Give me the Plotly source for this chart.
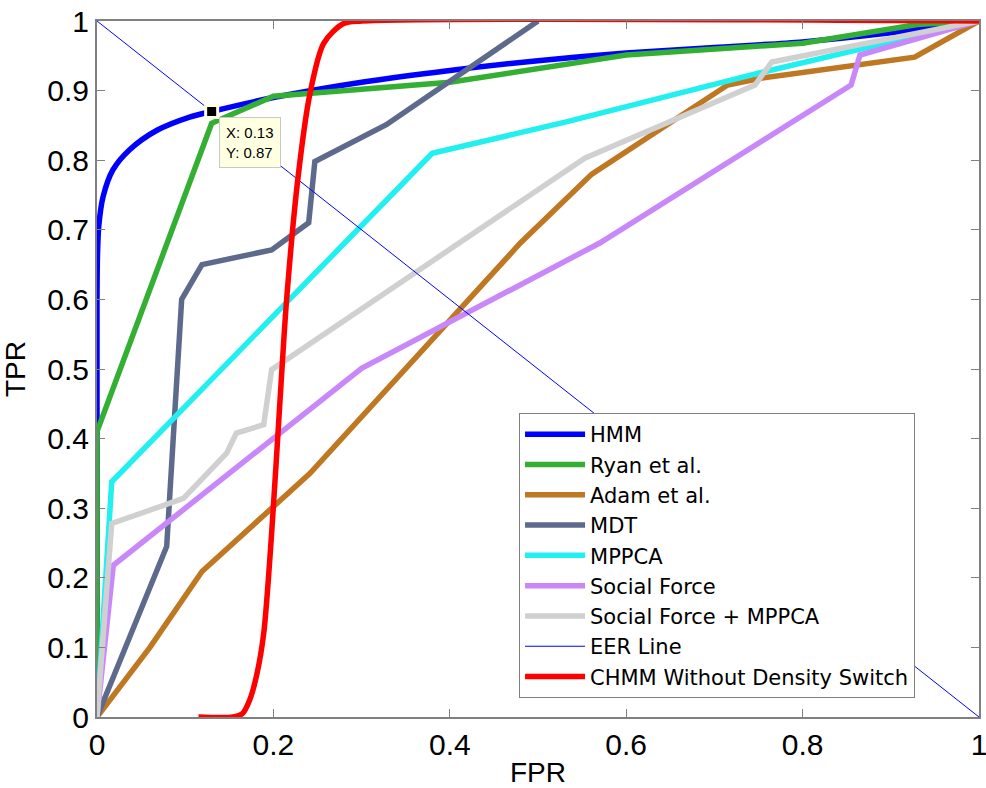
import plotly.graph_objects as go

# ---- data ----
hmm_x = [0, 0, 0.0005, 0.002, 0.007, 0.018, 0.037, 0.068, 0.105, 0.13, 0.2, 0.3, 0.4, 0.5, 0.6, 0.7, 0.8, 0.9, 1]
hmm_y = [0, 0.6, 0.66, 0.705, 0.748, 0.786, 0.815, 0.843, 0.862, 0.87, 0.89, 0.912, 0.929, 0.943, 0.954, 0.962, 0.970, 0.983, 1]

ryan_x = [0, 0, 0.13, 0.2, 0.4, 0.6, 0.8, 0.93, 1]
ryan_y = [0, 0.41, 0.853, 0.892, 0.912, 0.951, 0.968, 0.995, 1]

adam_x = [0, 0.06, 0.119, 0.2415, 0.48, 0.561, 0.715, 0.754, 0.927, 1]
adam_y = [0, 0.1, 0.209, 0.35, 0.681, 0.78, 0.908, 0.918, 0.948, 1]

mdt_x = [0, 0.079, 0.096, 0.119, 0.198, 0.24, 0.247, 0.328, 0.5]
mdt_y = [0, 0.245, 0.6, 0.65, 0.671, 0.71, 0.798, 0.851, 1]

mppca_x = [0, 0.0167, 0.38, 0.532, 0.75, 0.87, 1]
mppca_y = [0, 0.338, 0.81, 0.855, 0.925, 0.961, 1]

sf_x = [0, 0.0185, 0.3, 0.57, 0.855, 0.865, 1]
sf_y = [0, 0.218, 0.501, 0.681, 0.908, 0.951, 1]

sfm_x = [0, 0.0167, 0.098, 0.147, 0.158, 0.189, 0.198, 0.553, 0.746, 0.765, 1]
sfm_y = [0, 0.278, 0.314, 0.379, 0.408, 0.42, 0.499, 0.803, 0.908, 0.941, 1]

eer_x = [0, 1]
eer_y = [1, 0]

chmm_x = [0.115, 0.154, 0.165, 0.173, 0.181, 0.189, 0.198, 0.2075, 0.215, 0.228, 0.2415, 0.257, 0.279, 0.3, 1]
chmm_y = [0, 0, 0.005, 0.024, 0.06, 0.12, 0.264, 0.455, 0.6, 0.776, 0.896, 0.968, 0.996, 1, 1]

tip_x = [0.13]
tip_y = [0.87]

x_ticks = [0, 0.2, 0.4, 0.6, 0.8, 1]
x_tick_text = ["0", "0.2", "0.4", "0.6", "0.8", "1"]
y_ticks = [0, 0.1, 0.2, 0.3, 0.4, 0.5, 0.6, 0.7, 0.8, 0.9, 1]
y_tick_text = ["0", "0.1", "0.2", "0.3", "0.4", "0.5", "0.6", "0.7", "0.8", "0.9", "1"]

series = [
    ("HMM", hmm_x, hmm_y, "#0000FF", 5.5, "spline"),
    ("Ryan et al.", ryan_x, ryan_y, "#33B033", 5.5, "linear"),
    ("Adam et al.", adam_x, adam_y, "#C07722", 5.5, "linear"),
    ("MDT", mdt_x, mdt_y, "#5E6A8C", 5.5, "linear"),
    ("MPPCA", mppca_x, mppca_y, "#22F0F0", 5.5, "linear"),
    ("Social Force", sf_x, sf_y, "#C888FA", 5.5, "linear"),
    ("Social Force + MPPCA", sfm_x, sfm_y, "#D0D0D0", 5.5, "linear"),
    ("EER Line", eer_x, eer_y, "#0000FF", 1, "linear"),
    ("CHMM Without Density Switch", chmm_x, chmm_y, "#FF0000", 5.5, "spline"),
]

FONT = "Liberation Sans, Arial, sans-serif"
LEGEND_FONT = "DejaVu Sans, Liberation Sans, Arial, sans-serif"

fig = go.Figure()
for name, xs, ys, color, w, shape in series:
    line = dict(color=color, width=w, shape=shape)
    if shape == "spline":
        line["smoothing"] = 0.8
    fig.add_trace(go.Scatter(x=xs, y=ys, mode="lines", name=name, line=line))

fig.add_trace(go.Scatter(x=tip_x, y=tip_y, mode="markers", showlegend=False,
                         marker=dict(symbol="square", size=12, color="black",
                                     line=dict(color="#FFFFE1", width=3))))

fig.add_annotation(x=tip_x[0], y=tip_y[0], xref="x", yref="y",
                   text="X: 0.13<br>Y: 0.87", showarrow=False,
                   xanchor="left", yanchor="top", xshift=7, yshift=-6,
                   align="left", bgcolor="#FFFFE1", bordercolor="#C8C8C8",
                   borderwidth=1, borderpad=6,
                   font=dict(family=FONT, size=15, color="black"))

axis_common = dict(showline=True, linecolor="#808080", linewidth=2, mirror="ticks",
                   ticks="inside", ticklen=8, tickcolor="#808080", tickwidth=1,
                   showgrid=False, zeroline=False, automargin=False,
                   ticklabeloverflow="allow",
                   tickfont=dict(family=FONT, size=30, color="black"))

fig.update_xaxes(range=[0, 1], tickvals=x_ticks, ticktext=x_tick_text,
                 title=dict(text="FPR", font=dict(family=FONT, size=28, color="black")),
                 **axis_common)
fig.update_yaxes(range=[0, 1], tickvals=y_ticks, ticktext=y_tick_text,
                 title=dict(text="TPR", font=dict(family=FONT, size=28, color="black")),
                 **axis_common)

fig.update_layout(
    width=986, height=788,
    margin=dict(l=97, r=7, t=21, b=71),
    paper_bgcolor="white", plot_bgcolor="white",
    font=dict(family=FONT, color="black"),
    legend=dict(x=0.4785, y=0.4368, xanchor="left", yanchor="top",
                bgcolor="white", bordercolor="#808080", borderwidth=1,
                font=dict(family=LEGEND_FONT, size=21, color="black"),
                itemwidth=60, tracegroupgap=0),
)

fig.write_html("out.html", config={"displayModeBar": False},
               post_script="document.body.style.margin='0';")
